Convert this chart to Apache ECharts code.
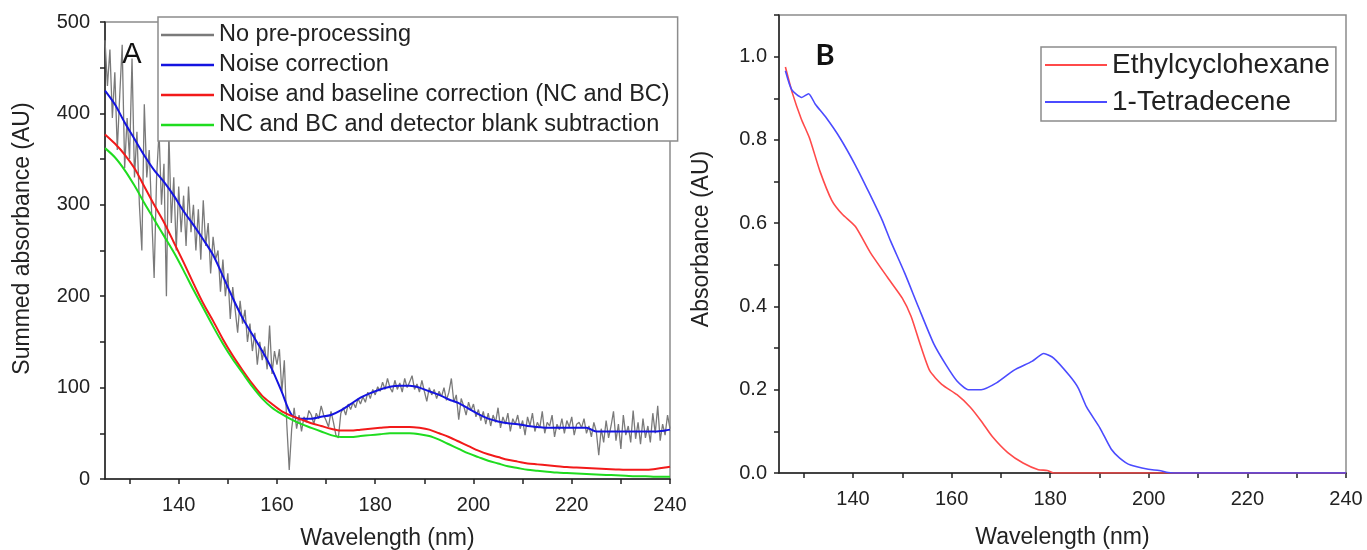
<!DOCTYPE html>
<html>
<head>
<meta charset="utf-8">
<script src="https://cdn.jsdelivr.net/npm/echarts@6.0.0/dist/echarts.min.js"></script>
<style>html,body{margin:0;padding:0;background:#fff}#c{width:1367px;height:550px}</style>
</head>
<body>
<div id="c"></div>
<script>
// ---------- Panel A data ----------
const namesA = ['No pre-processing', 'Noise correction', 'Noise and baseline correction (NC and BC)', 'NC and BC and detector blank subtraction'];
const wlA = [125,127,129,131,133,135,137,139,141,143,145,147,149,151,153,155,157,159,161,163,165,167,169,171,173,175,177,179,181,183,185,187,189,191,193,195,197,199,201,203,205,207,209,211,213,215,217,219,221,223,225,227,229,231,233,235,237,239,240];
const noiseCorr = [425,410,390,372,354,338,325,310,293,278,262,245,222,198,176,158,140,120,95,70,66,66,68,70,75,82,89,94,98,101,102,102,100,96,92,87,83,77,71,66,63,61,60,58,57,56,56,56,56,56,52,52,52,52,52,52,52,53,54];
const ncBc = [377,367,355,340,320,300,281,259,237,214,192,173,153,135,119,104,91,82,74,69,65,61,58,55,53,53,54,55,56,57,57,57,56,54,50,46,41,36,31,27,24,21,19,17,16,15,14,13,12.5,12,11.5,11,10.5,10,10,10,11,12.5,13.5];
const ncBcBlank = [362,352,338,321,302,284,266,248,228,207,187,167,148,131,116,101,88,78,71,65,60,56,52,48,46,46,47,48,49,50,50,50,49,47,43,38,33,28,24,20,17,14,12,10,9,8,7,6.5,6,5.5,5,4.5,4,3.5,3,3,2.5,2.5,2.5];
const rawSignal = [
[125,480],[125.5,430],[126,470],[126.5,395],[127,445],[127.5,360],[128,420],[128.5,475],[129,340],[129.5,395],
[130,350],[130.5,460],[131,330],[131.5,380],[132,300],[132.5,250],[133,410],[133.5,330],[134,360],[134.5,290],
[135,220],[135.5,330],[136,380],[136.5,300],[137,345],[137.5,200],[138,380],[138.5,280],[139,330],[139.5,250],
[140,320],[140.5,270],[141,310],[141.5,255],[142,320],[142.5,270],[143,300],[143.5,250],[144,295],[144.5,240],
[145,305],[145.5,255],[146,280],[146.5,225],[147,265],[147.5,240],[148,250],[148.5,205],[149,240],[149.5,200],
[150,225],[150.5,175],[151,210],[151.5,185],[152,160],[152.5,195],[153,170],[153.5,185],[154,150],[154.5,170],
[155,140],[155.5,160],[156,125],[156.5,150],[157,130],[157.5,145],[158,120],[158.5,168],[159,115],[159.5,140],
[160,125],[160.5,142],[161,95],[161.5,130],[162,60],[162.5,10],[163,55],[163.5,78],[164,55],[164.5,70],
[165,52],[165.5,68],[166,62],[166.5,75],[167,70],[167.5,60],[168,72],[168.5,66],[169,80],[169.5,70],
[170,64],[170.5,57],[171,74],[171.5,62],[172,48],[172.5,45],[173,72],[173.5,78],[174,70],[174.5,82],
[175,76],[175.5,84],[176,78],[176.5,88],[177,82],[177.5,90],[178,84],[178.5,95],[179,88],[179.5,98],
[180,92],[180.5,101],[181,96],[181.5,106],[182,98],[182.5,110],[183,100],[183.5,95],[184,108],[184.5,98],
[185,105],[185.5,95],[186,110],[186.5,100],[187,106],[187.5,113],[188,98],[188.5,104],[189,95],[189.5,108],
[190,96],[190.5,85],[191,100],[191.5,92],[192,98],[192.5,88],[193,96],[193.5,90],[194,100],[194.5,86],
[195,95],[195.5,110],[196,84],[196.5,92],[197,65],[197.5,88],[198,80],[198.5,70],[199,84],[199.5,75],
[200,82],[200.5,68],[201,76],[201.5,64],[202,74],[202.5,60],[203,72],[203.5,58],[204,70],[204.5,62],
[205,78],[205.5,56],[206,68],[206.5,60],[207,72],[207.5,52],[208,66],[208.5,60],[209,70],[209.5,55],
[210,64],[210.5,48],[211,68],[211.5,58],[212,72],[212.5,52],[213,62],[213.5,56],[214,74],[214.5,50],
[215,62],[215.5,58],[216,70],[216.5,46],[217,60],[217.5,54],[218,66],[218.5,50],[219,64],[219.5,57],
[220,68],[220.5,48],[221,60],[221.5,62],[222,56],[222.5,66],[223,50],[223.5,58],[224,46],[224.5,62],
[225,52],[225.5,26],[226,55],[226.5,40],[227,64],[227.5,45],[228,58],[228.5,74],[229,42],[229.5,60],
[230,33],[230.5,70],[231,48],[231.5,58],[232,40],[232.5,75],[233,44],[233.5,62],[234,38],[234.5,66],
[235,45],[235.5,58],[236,40],[236.5,72],[237,50],[237.5,80],[238,42],[238.5,60],[239,48],[239.5,70],
[240,55]
];
const xTicksA = [130,140,150,160,170,180,190,200,210,220,230,240];
const xLabelsA = [140,160,180,200,220,240];
const yTicksA = [0,50,100,150,200,250,300,350,400,450,500];
const yLabelsA = [0,100,200,300,400,500];

// ---------- Panel B data ----------
const namesB = ['Ethylcyclohexane', '1-Tetradecene'];
const ethylWl = [126.3,127.7,129.5,131.2,133.3,135.7,137.8,140.5,143.5,147.0,150.0,151.8,153.7,155.6,158.0,161.1,163.8,166.0,168.3,171.4,174.5,177.6,179.4,180.7,190,200,210,220,230,240];
const ethylAbs = [0.975,0.913,0.851,0.804,0.725,0.655,0.622,0.592,0.53,0.47,0.42,0.376,0.307,0.245,0.213,0.188,0.158,0.125,0.087,0.049,0.024,0.008,0.006,0,0,0,0,0,0,0];
const tetraWl = [126.3,127.6,129.6,131.0,132.4,134.4,137.4,140.5,143.2,145.9,147.6,150.5,153.3,156.4,158.9,161.1,163.4,166.0,169.2,172.7,176.3,178.7,180.7,183.9,185.7,187.4,190.1,192.4,194.1,196.3,199.9,202.1,203.9,205,220,240];
const tetraAbs = [0.966,0.92,0.902,0.911,0.885,0.856,0.804,0.739,0.675,0.608,0.558,0.48,0.398,0.31,0.259,0.221,0.2,0.2,0.217,0.247,0.268,0.287,0.276,0.234,0.204,0.158,0.108,0.057,0.036,0.019,0.009,0.006,0.001,0,0,0];
const xTicksB = [130,140,150,160,170,180,190,200,210,220,230,240];
const xLabelsB = [140,160,180,200,220,240];
const yTicksB = [0,0.1,0.2,0.3,0.4,0.5,0.6,0.7,0.8,0.9,1.0,1.1];
const yLabelsB = [0,0.2,0.4,0.6,0.8,1.0];

// ---------- build ----------
const FONT = 'Liberation Sans';
const INK = '#222';
const pairs = (xs, ys) => xs.map((x, i) => [x, ys[i]]);

function xAxis(gi, ticks, labels, gap) {
  return {
    type: 'value', gridIndex: gi, min: 125, max: 240,
    name: 'Wavelength (nm)', nameLocation: 'middle', nameGap: gap,
    nameTextStyle: { fontFamily: FONT, fontSize: 23, color: INK },
    axisLine: { show: true, lineStyle: { color: INK, width: 1.5 } },
    axisTick: { show: true, length: 5, customValues: ticks, lineStyle: { color: INK, width: 1.5 } },
    axisLabel: { customValues: labels, fontFamily: FONT, fontSize: 20, color: INK, margin: 16 },
    splitLine: { show: false }, minorTick: { show: false }
  };
}

const chart = echarts.init(document.getElementById('c'), null, { renderer: 'canvas' });
chart.setOption({
  animation: false,
  backgroundColor: '#fff',
  grid: [
    { left: 105, top: 22, width: 565, height: 457, containLabel: false, outerBoundsMode: 'none', show: true, borderColor: '#8c8c8c', borderWidth: 1.5, backgroundColor: 'transparent' },
    { left: 779, top: 15, width: 567, height: 458, containLabel: false, outerBoundsMode: 'none', show: true, borderColor: '#8c8c8c', borderWidth: 1.5, backgroundColor: 'transparent' }
  ],
  xAxis: [ xAxis(0, xTicksA, xLabelsA, 48), xAxis(1, xTicksB, xLabelsB, 53) ],
  yAxis: [
    {
      type: 'value', gridIndex: 0, min: 0, max: 500, interval: 100,
      name: 'Summed absorbance (AU)', nameLocation: 'middle', nameGap: 71, nameRotate: 90,
      nameTextStyle: { fontFamily: FONT, fontSize: 23, color: INK, padding: [0, 0, 0, 24] },
      axisLine: { show: true, lineStyle: { color: INK, width: 1.5 } },
      axisTick: { show: true, length: 5, customValues: yTicksA, lineStyle: { color: INK, width: 1.5 } },
      axisLabel: { customValues: yLabelsA, fontFamily: FONT, fontSize: 20, color: INK, margin: 15 },
      splitLine: { show: false }
    },
    {
      type: 'value', gridIndex: 1, min: 0, max: 1.1,
      name: 'Absorbance (AU)', nameLocation: 'middle', nameGap: 66, nameRotate: 90,
      nameTextStyle: { fontFamily: FONT, fontSize: 23, color: INK, padding: [0, 0, 0, 10] },
      axisLine: { show: true, lineStyle: { color: INK, width: 1.5 } },
      axisTick: { show: true, length: 5, customValues: yTicksB, lineStyle: { color: INK, width: 1.5 } },
      axisLabel: { customValues: yLabelsB, fontFamily: FONT, fontSize: 20, color: INK, margin: 12, formatter: v => v.toFixed(1) },
      splitLine: { show: false }
    }
  ],
  legend: [
    {
      data: namesA, orient: 'vertical', left: 158, top: 17, selectedMode: false,
      icon: 'rect', padding: [6, 8, 4, 3], itemGap: 6, itemWidth: 53, itemHeight: 2.5,
      backgroundColor: '#fff', borderColor: '#8c8c8c', borderWidth: 1.5,
      textStyle: { fontFamily: FONT, fontSize: 23.5, lineHeight: 23, color: INK }
    },
    {
      data: namesB, orient: 'vertical', left: 1041, top: 47, selectedMode: false,
      icon: 'rect', padding: [4, 6, 5, 4], itemGap: 9, itemWidth: 62, itemHeight: 2,
      backgroundColor: '#fff', borderColor: '#8c8c8c', borderWidth: 1.5,
      textStyle: { fontFamily: FONT, fontSize: 28, lineHeight: 27, color: INK }
    }
  ],
  graphic: [
    { type: 'text', x: 132, y: 55, z: 10, style: { text: 'A', font: '29px "Liberation Sans"', fill: '#111', align: 'center', verticalAlign: 'middle', textAlign: 'center', textVerticalAlign: 'middle' } },
    { type: 'text', x: 825, y: 56, z: 10, style: { text: 'B', font: 'bold 29px Lato', fill: '#111', align: 'center', verticalAlign: 'middle', textAlign: 'center', textVerticalAlign: 'middle' } }
  ],
  series: [
    { type: 'line', name: namesA[0], xAxisIndex: 0, yAxisIndex: 0, data: rawSignal, symbol: 'none', lineStyle: { color: '#7a7a7a', width: 1.3 }, itemStyle: { color: '#7a7a7a' }, z: 2 },
    { type: 'line', name: namesA[1], xAxisIndex: 0, yAxisIndex: 0, data: pairs(wlA, noiseCorr), symbol: 'none', smooth: 0.3, lineStyle: { color: '#1414e0', width: 2 }, itemStyle: { color: '#1414e0' }, z: 3 },
    { type: 'line', name: namesA[2], xAxisIndex: 0, yAxisIndex: 0, data: pairs(wlA, ncBc), symbol: 'none', smooth: 0.3, lineStyle: { color: '#f21a1a', width: 2 }, itemStyle: { color: '#f21a1a' }, z: 3 },
    { type: 'line', name: namesA[3], xAxisIndex: 0, yAxisIndex: 0, data: pairs(wlA, ncBcBlank), symbol: 'none', smooth: 0.3, lineStyle: { color: '#1fdc1f', width: 2 }, itemStyle: { color: '#1fdc1f' }, z: 3 },
    { type: 'line', name: namesB[0], xAxisIndex: 1, yAxisIndex: 1, data: pairs(ethylWl, ethylAbs), symbol: 'none', smooth: 0.2, lineStyle: { color: '#ff4a4a', width: 1.6 }, itemStyle: { color: '#ff4a4a' }, z: 3 },
    { type: 'line', name: namesB[1], xAxisIndex: 1, yAxisIndex: 1, data: pairs(tetraWl, tetraAbs), symbol: 'none', smooth: 0.2, lineStyle: { color: '#4b4bff', width: 1.6 }, itemStyle: { color: '#4b4bff' }, z: 3 }
  ]
});
</script>
</body>
</html>
